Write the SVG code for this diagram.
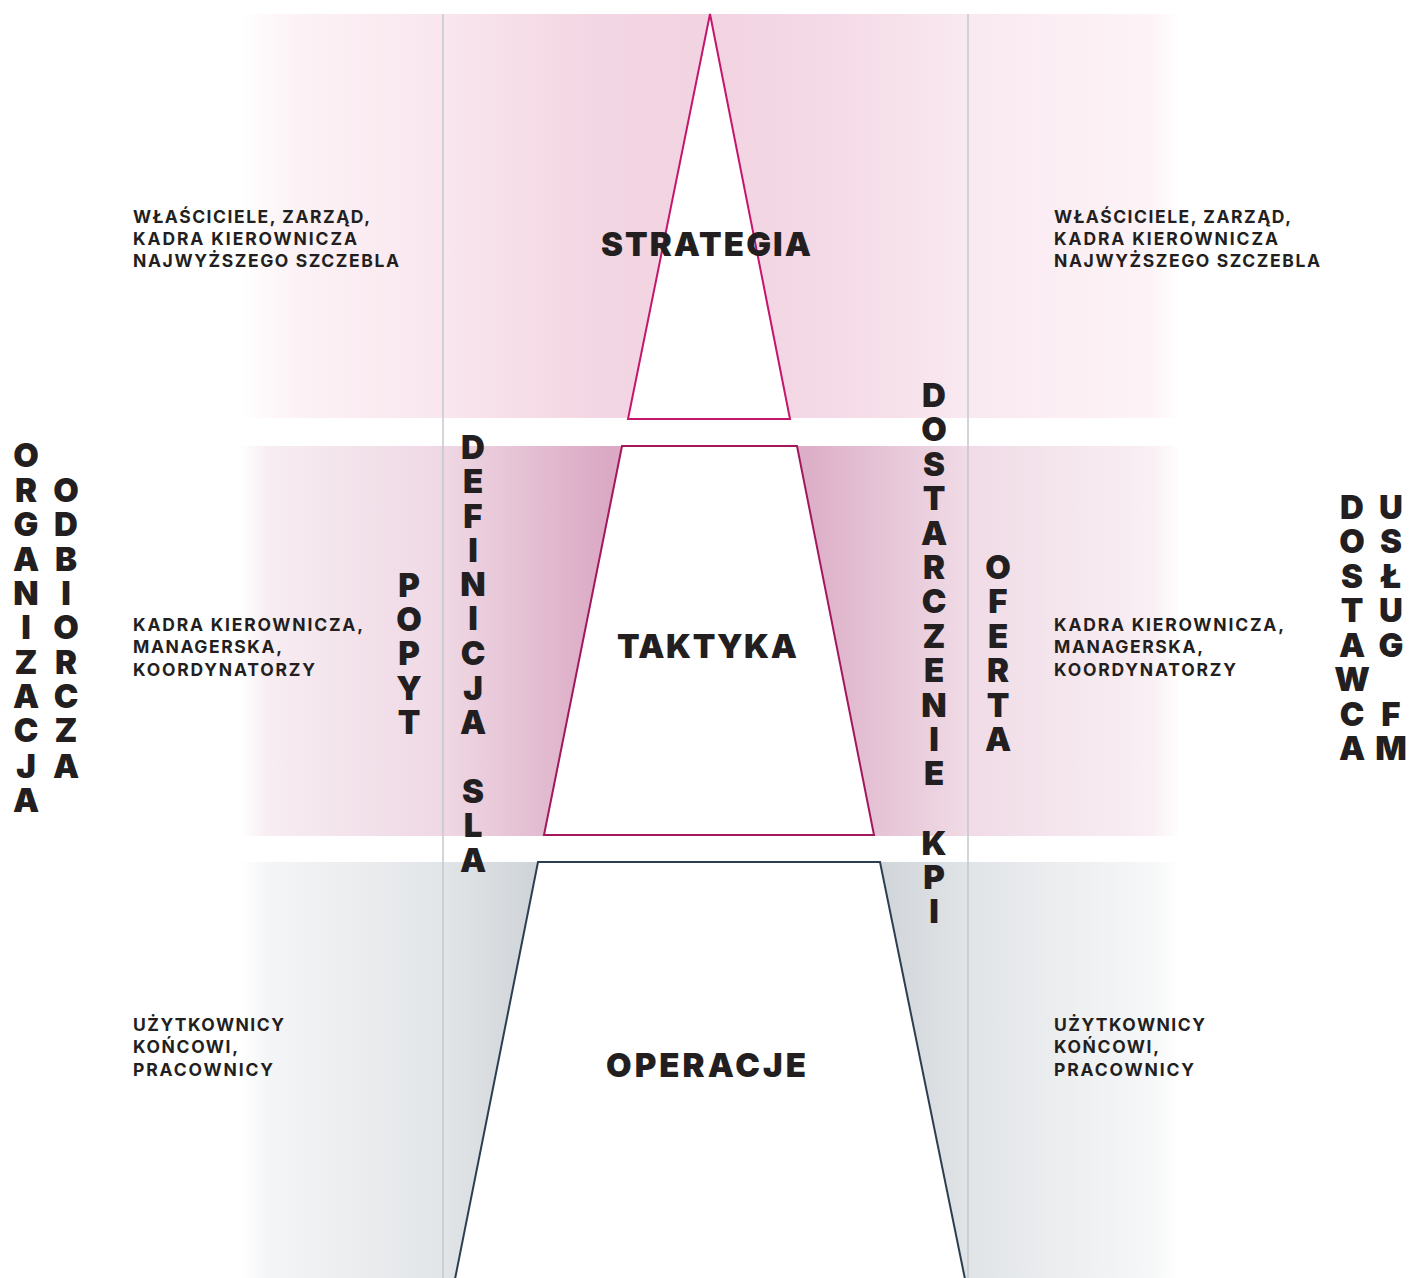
<svg xmlns="http://www.w3.org/2000/svg" width="1410" height="1278" viewBox="0 0 1410 1278">
<defs>
<linearGradient id="gTop" gradientUnits="userSpaceOnUse" x1="240" y1="0" x2="1180" y2="0">
<stop offset="0" stop-color="#ffffff"/>
<stop offset="0.06" stop-color="#fcf2f6"/>
<stop offset="0.216" stop-color="#f9e6ee"/>
<stop offset="0.38" stop-color="#f3d6e3"/>
<stop offset="0.5" stop-color="#f2d3e1"/>
<stop offset="0.62" stop-color="#f4d9e6"/>
<stop offset="0.774" stop-color="#f9e9f0"/>
<stop offset="0.97" stop-color="#fdf3f7"/>
<stop offset="1" stop-color="#ffffff"/>
</linearGradient>
<linearGradient id="gMid" gradientUnits="userSpaceOnUse" x1="240" y1="0" x2="1180" y2="0">
<stop offset="0" stop-color="#ffffff"/>
<stop offset="0.03" stop-color="#f7edf2"/>
<stop offset="0.216" stop-color="#efd8e4"/>
<stop offset="0.39" stop-color="#dba9c4"/>
<stop offset="0.6" stop-color="#dcaec7"/>
<stop offset="0.774" stop-color="#f0dbe6"/>
<stop offset="0.97" stop-color="#f9eff4"/>
<stop offset="1" stop-color="#ffffff"/>
</linearGradient>
<linearGradient id="gBot" gradientUnits="userSpaceOnUse" x1="240" y1="0" x2="1180" y2="0">
<stop offset="0" stop-color="#ffffff"/>
<stop offset="0.03" stop-color="#f4f5f6"/>
<stop offset="0.216" stop-color="#e2e5e8"/>
<stop offset="0.32" stop-color="#ced3d7"/>
<stop offset="0.68" stop-color="#d0d5d9"/>
<stop offset="0.774" stop-color="#e1e4e7"/>
<stop offset="0.97" stop-color="#f6f7f8"/>
<stop offset="1" stop-color="#ffffff"/>
</linearGradient>
<style>
.lab{font-family:Inter,"DejaVu Sans",sans-serif;font-weight:700;font-size:17.5px;fill:#231f20}
.title{font-family:Inter,"DejaVu Sans",sans-serif;font-weight:900;font-size:33px;fill:#231f20;text-anchor:middle}
.vert{font-family:Inter,"DejaVu Sans",sans-serif;font-weight:900;font-size:33px;fill:#231f20;text-anchor:middle}
.div{stroke:#c3c9ce;stroke-width:1.5;fill:none}
</style>
</defs>
<rect width="1410" height="1278" fill="#ffffff"/>
<g id="bands">
<rect x="240" y="14" width="940" height="404" fill="url(#gTop)"/>
<rect x="240" y="446" width="940" height="390" fill="url(#gMid)"/>
<rect x="240" y="862" width="940" height="416" fill="url(#gBot)"/>
</g>
<g id="connectors">
<line class="div" x1="443" y1="14" x2="443" y2="1278"/>
<line class="div" x1="968" y1="14" x2="968" y2="1278"/>
</g>
<g id="strategia">
<polygon points="710,14 790,419 628,419" fill="#ffffff" stroke="#c4166d" stroke-width="2"/>
<text class="title" x="706" y="256" textLength="210" lengthAdjust="spacing">STRATEGIA</text>
</g>
<g id="taktyka">
<polygon points="622,446 797,446 874,835 544,835" fill="#ffffff" stroke="#a3175d" stroke-width="2"/>
<text class="title" x="707" y="658" textLength="180" lengthAdjust="spacing">TAKTYKA</text>
</g>
<g id="operacje">
<polygon points="455,1279 538,862 880,862 965,1279" fill="#ffffff" stroke="#2c3e50" stroke-width="2"/>
<text class="title" x="706" y="1077" textLength="200" lengthAdjust="spacing">OPERACJE</text>
</g>
<g id="left-labels">
<text class="lab" x="133" y="223" textLength="237" lengthAdjust="spacing">WŁAŚCICIELE, ZARZĄD,</text>
<text class="lab" x="133" y="245" textLength="224" lengthAdjust="spacing">KADRA KIEROWNICZA</text>
<text class="lab" x="133" y="267" textLength="266" lengthAdjust="spacing">NAJWYŻSZEGO SZCZEBLA</text>
<text class="lab" x="133" y="631" textLength="230" lengthAdjust="spacing">KADRA KIEROWNICZA,</text>
<text class="lab" x="133" y="653" textLength="149" lengthAdjust="spacing">MANAGERSKA,</text>
<text class="lab" x="133" y="676" textLength="182" lengthAdjust="spacing">KOORDYNATORZY</text>
<text class="lab" x="133" y="1031" textLength="151" lengthAdjust="spacing">UŻYTKOWNICY</text>
<text class="lab" x="133" y="1053" textLength="105" lengthAdjust="spacing">KOŃCOWI,</text>
<text class="lab" x="133" y="1076" textLength="140" lengthAdjust="spacing">PRACOWNICY</text>
</g>
<g id="right-labels">
<text class="lab" x="1054" y="223" textLength="237" lengthAdjust="spacing">WŁAŚCICIELE, ZARZĄD,</text>
<text class="lab" x="1054" y="245" textLength="224" lengthAdjust="spacing">KADRA KIEROWNICZA</text>
<text class="lab" x="1054" y="267" textLength="266" lengthAdjust="spacing">NAJWYŻSZEGO SZCZEBLA</text>
<text class="lab" x="1054" y="631" textLength="230" lengthAdjust="spacing">KADRA KIEROWNICZA,</text>
<text class="lab" x="1054" y="653" textLength="149" lengthAdjust="spacing">MANAGERSKA,</text>
<text class="lab" x="1054" y="676" textLength="182" lengthAdjust="spacing">KOORDYNATORZY</text>
<text class="lab" x="1054" y="1031" textLength="151" lengthAdjust="spacing">UŻYTKOWNICY</text>
<text class="lab" x="1054" y="1053" textLength="105" lengthAdjust="spacing">KOŃCOWI,</text>
<text class="lab" x="1054" y="1076" textLength="140" lengthAdjust="spacing">PRACOWNICY</text>
</g>
<g id="organizacja-odbiorcza">
<text class="vert"><tspan x="26" y="467">O</tspan><tspan x="26" y="502">R</tspan><tspan x="26" y="536">G</tspan><tspan x="26" y="571">A</tspan><tspan x="26" y="605">N</tspan><tspan x="26" y="639">I</tspan><tspan x="26" y="674">Z</tspan><tspan x="26" y="708">A</tspan><tspan x="26" y="742">C</tspan><tspan x="26" y="778">J</tspan><tspan x="26" y="812">A</tspan></text>
<text class="vert"><tspan x="66" y="502">O</tspan><tspan x="66" y="536">D</tspan><tspan x="66" y="571">B</tspan><tspan x="66" y="605">I</tspan><tspan x="66" y="639">O</tspan><tspan x="66" y="674">R</tspan><tspan x="66" y="708">C</tspan><tspan x="66" y="742">Z</tspan><tspan x="66" y="778">A</tspan></text>
</g>
<g id="dostawca-uslug-fm">
<text class="vert"><tspan x="1352" y="519">D</tspan><tspan x="1352" y="553">O</tspan><tspan x="1352" y="588">S</tspan><tspan x="1352" y="622">T</tspan><tspan x="1352" y="657">A</tspan><tspan x="1352" y="691">W</tspan><tspan x="1352" y="726">C</tspan><tspan x="1352" y="760">A</tspan></text>
<text class="vert"><tspan x="1391" y="519">U</tspan><tspan x="1391" y="553">S</tspan><tspan x="1391" y="588">Ł</tspan><tspan x="1391" y="622">U</tspan><tspan x="1391" y="657">G</tspan><tspan x="1391" y="726">F</tspan><tspan x="1391" y="760">M</tspan></text>
</g>
<g id="popyt">
<text class="vert"><tspan x="409" y="597">P</tspan><tspan x="409" y="631">O</tspan><tspan x="409" y="665">P</tspan><tspan x="409" y="700">Y</tspan><tspan x="409" y="734">T</tspan></text>
</g>
<g id="definicja-sla">
<text class="vert"><tspan x="473" y="459">D</tspan><tspan x="473" y="493">E</tspan><tspan x="473" y="528">F</tspan><tspan x="473" y="562">I</tspan><tspan x="473" y="596">N</tspan><tspan x="473" y="630">I</tspan><tspan x="473" y="665">C</tspan><tspan x="473" y="700">J</tspan><tspan x="473" y="734">A</tspan><tspan x="473" y="803">S</tspan><tspan x="473" y="837">L</tspan><tspan x="473" y="872">A</tspan></text>
</g>
<g id="dostarczenie-kpi">
<text class="vert"><tspan x="934" y="407">D</tspan><tspan x="934" y="441">O</tspan><tspan x="934" y="476">S</tspan><tspan x="934" y="510">T</tspan><tspan x="934" y="545">A</tspan><tspan x="934" y="579">R</tspan><tspan x="934" y="613">C</tspan><tspan x="934" y="648">Z</tspan><tspan x="934" y="682">E</tspan><tspan x="934" y="717">N</tspan><tspan x="934" y="751">I</tspan><tspan x="934" y="785">E</tspan><tspan x="934" y="855">K</tspan><tspan x="934" y="889">P</tspan><tspan x="934" y="923">I</tspan></text>
</g>
<g id="oferta">
<text class="vert"><tspan x="998" y="579">O</tspan><tspan x="998" y="613">F</tspan><tspan x="998" y="648">E</tspan><tspan x="998" y="682">R</tspan><tspan x="998" y="717">T</tspan><tspan x="998" y="751">A</tspan></text>
</g>
</svg>
